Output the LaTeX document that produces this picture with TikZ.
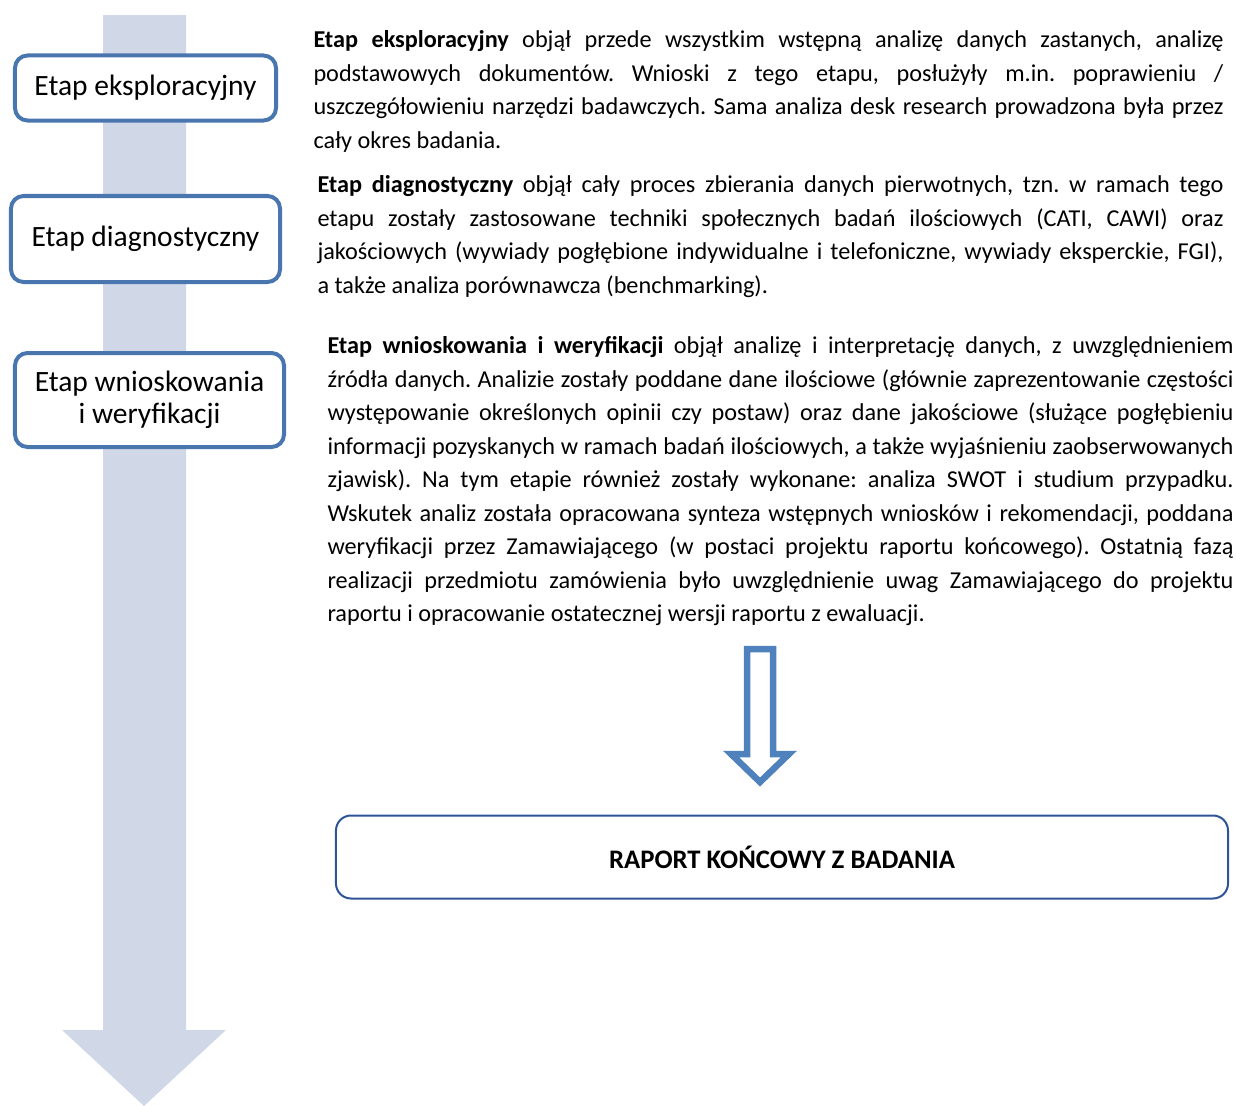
\documentclass[tikz,border=0pt]{standalone}
\usepackage{fontspec}
\setmainfont{Carlito}
\usetikzlibrary{positioning}

\definecolor{stageline}{RGB}{74,118,176}
\definecolor{reportline}{RGB}{46,84,150}
\definecolor{flowfill}{RGB}{208,216,232}
\definecolor{hollowline}{RGB}{79,129,189}

\hyphenpenalty=10000
\exhyphenpenalty=10000
\tolerance=9999
\emergencystretch=20pt
\frenchspacing

\begin{document}
\begin{tikzpicture}[x=0.4pt, y=-0.4pt,
	stage/.style={draw=stageline, line width=1.6pt, fill=white, rounded corners=5pt,
		inner sep=0pt, align=center, font=\fontsize{11.8}{12.8}\selectfont},
	desc/.style={anchor=north west, inner sep=0pt, align=justify,
		font=\fontsize{9.7}{13.4}\selectfont},
	report/.style={draw=reportline, line width=0.8pt, rounded corners=6pt, inner sep=0pt,
		minimum width=356.8pt, minimum height=33.2pt, font=\fontsize{10.7}{13.4}\selectfont\bfseries}]

	\useasboundingbox (0,0) rectangle (1236,1106);

	\fill[flowfill] (103,15) -- (186,15) -- (186,1030) -- (226,1030) -- (144,1106)
		-- (62,1030) -- (103,1030) -- cycle;

	\node (eksp) [stage, minimum width=104.4pt, minimum height=26pt] at (145.5,88) {Etap eksploracyjny};
	\node (diag) [stage, minimum width=107.6pt, minimum height=34.4pt] at (145.5,239) {Etap diagnostyczny};
	\node (wnio) [stage, minimum width=107.6pt, minimum height=37.6pt] at (149.5,400) {Etap wnioskowania\\i weryfikacji};

	\node (opis1) [desc, text width=364pt] at (313,30) {\textbf{Etap eksploracyjny} objął przede wszystkim wstępną analizę danych zastanych, analizę\linebreak
		podstawowych dokumentów. Wnioski z~tego etapu, posłużyły m.in. poprawieniu /\linebreak
		uszczegółowieniu narzędzi badawczych. Sama analiza desk research prowadzona była przez\linebreak
		cały okres badania.};

	\node (opis2) [desc, text width=362.4pt] at (317,175) {\textbf{Etap diagnostyczny} objął cały proces zbierania danych pierwotnych, tzn. w ramach tego\linebreak
		etapu zostały zastosowane techniki społecznych badań ilościowych (CATI, CAWI) oraz\linebreak
		jakościowych (wywiady pogłębione indywidualne i telefoniczne, wywiady eksperckie, FGI),\linebreak
		a także analiza porównawcza (benchmarking).};

	\node (opis3) [desc, text width=362.4pt] at (327,336) {\textbf{Etap wnioskowania i weryfikacji} objął analizę i interpretację danych, z~uwzględnieniem\linebreak
		źródła danych. Analizie zostały poddane dane ilościowe (głównie zaprezentowanie częstości\linebreak
		występowanie określonych opinii czy postaw) oraz dane jakościowe (służące pogłębieniu\linebreak
		informacji pozyskanych w ramach badań ilościowych, a także wyjaśnieniu zaobserwowanych\linebreak
		zjawisk). Na tym etapie również zostały wykonane: analiza SWOT i studium przypadku.\linebreak
		Wskutek analiz została opracowana synteza wstępnych wniosków i rekomendacji, poddana\linebreak
		weryfikacji przez Zamawiającego (w postaci projektu raportu końcowego). Ostatnią fazą\linebreak
		realizacji przedmiotu zamówienia było uwzględnienie uwag Zamawiającego do projektu\linebreak
		raportu i opracowanie ostatecznej wersji raportu z ewaluacji.};

	\node (raport) [report] at (782,857) {RAPORT KOŃCOWY Z BADANIA};

	\draw[hollowline, line width=2.6pt, fill=white] (747,649) -- (773,649) -- (773,754) -- (789,754)
		-- (760,782) -- (731,754) -- (747,754) -- cycle;

\end{tikzpicture}
\end{document}
